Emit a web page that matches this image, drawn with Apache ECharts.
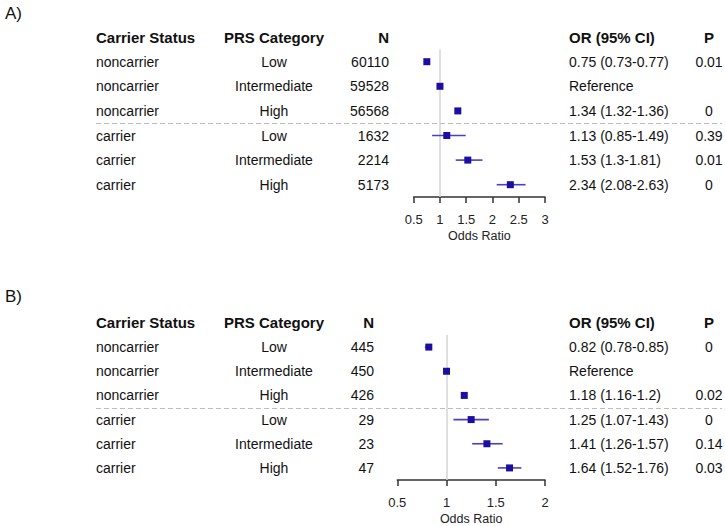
<!DOCTYPE html>
<html>
<head>
<meta charset="utf-8">
<script src="https://cdn.jsdelivr.net/npm/echarts@6/dist/echarts.min.js"></script>
<style>
  html, body { margin: 0; padding: 0; background: #fff; }
  #main { width: 725px; height: 526px; }
</style>
</head>
<body>
<div id="main"></div>
<script>
// rows shared by both panels
var carrier = ['noncarrier', 'noncarrier', 'noncarrier', 'carrier', 'carrier', 'carrier'];
var prs = ['Low', 'Intermediate', 'High', 'Low', 'Intermediate', 'High'];
var headers = ['Carrier Status', 'PRS Category', 'N', 'OR (95% CI)', 'P'];

// panel A
var nA = [60110, 59528, 56568, 1632, 2214, 5173];
var orA = [0.75, 1, 1.34, 1.13, 1.53, 2.34];
var loA = [0.73, null, 1.32, 0.85, 1.3, 2.08];
var hiA = [0.77, null, 1.36, 1.49, 1.81, 2.63];
var pA = ['0.01', '', '0', '0.39', '0.01', '0'];
var ticksA = [0.5, 1, 1.5, 2, 2.5, 3];

// panel B
var nB = [445, 450, 426, 29, 23, 47];
var orB = [0.82, 1, 1.18, 1.25, 1.41, 1.64];
var loB = [0.78, null, 1.16, 1.07, 1.26, 1.52];
var hiB = [0.85, null, 1.2, 1.43, 1.57, 1.76];
var pB = ['0', '', '0.02', '0', '0.14', '0.03'];
var ticksB = [0.5, 1, 1.5, 2];

var FONT = '"Liberation Sans", Arial, Helvetica, sans-serif';

var panels = [
  { tag: 'A)', n: nA, or: orA, lo: loA, hi: hiA, p: pA, ticks: ticksA,
    grid: { left: 413.7, top: 49.4, width: 131.3, height: 147.6 }, nRight: 389, tagY: 13 },
  { tag: 'B)', n: nB, or: orB, lo: loB, hi: hiB, p: pB, ticks: ticksB,
    grid: { left: 397.3, top: 335, width: 147.7, height: 147.6 }, nRight: 374, tagY: 296 }
];

var dom = document.getElementById('main');
var myChart = echarts.init(dom, null, { renderer: 'svg' });

var grids = [], xAxes = [], yAxes = [], series = [];
panels.forEach(function (pn, g) {
  grids.push({ left: pn.grid.left, top: pn.grid.top, width: pn.grid.width, height: pn.grid.height, containLabel: false });
  xAxes.push({
    type: 'value', gridIndex: g,
    min: pn.ticks[0], max: pn.ticks[pn.ticks.length - 1], interval: pn.ticks[1] - pn.ticks[0],
    name: 'Odds Ratio', nameLocation: 'middle', nameGap: 32,
    nameTextStyle: { fontFamily: FONT, fontSize: 12.5, color: '#222' },
    splitLine: { show: false },
    axisLine: { show: true, lineStyle: { color: '#333', width: 1.5 } },
    axisTick: { show: true, length: 6, lineStyle: { color: '#333', width: 1.5 } },
    axisLabel: { fontFamily: FONT, fontSize: 13, color: '#222', margin: 16 }
  });
  yAxes.push({
    type: 'category', gridIndex: g, inverse: true,
    data: carrier.map(function (c, i) { return i; }),
    show: false
  });
  var ci = [];
  pn.or.forEach(function (v, i) {
    if (pn.lo[i] != null) ci.push([i, pn.lo[i], pn.hi[i]]);
  });
  series.push({
    type: 'custom', xAxisIndex: g, yAxisIndex: g, z: 2,
    encode: { x: [1, 2], y: 0 },
    data: ci,
    renderItem: function (params, api) {
      var a = api.coord([api.value(1), api.value(0)]);
      var b = api.coord([api.value(2), api.value(0)]);
      return {
        type: 'line',
        shape: { x1: a[0], y1: a[1], x2: b[0], y2: b[1] },
        style: { stroke: '#4642c6', lineWidth: 1.6 }
      };
    },
    markLine: {
      silent: true, symbol: 'none', z: 1, label: { show: false },
      lineStyle: { color: '#d4d4d4', width: 1.5, type: 'solid' },
      data: [{ xAxis: 1 }]
    }
  });
  series.push({
    type: 'scatter', xAxisIndex: g, yAxisIndex: g, z: 3,
    symbol: 'rect', symbolSize: 7,
    itemStyle: { color: '#1c0ea0', opacity: 1 },
    data: pn.or.map(function (v, i) { return [v, i]; })
  });
});

myChart.setOption({
  animation: false,
  grid: grids,
  xAxis: xAxes,
  yAxis: yAxes,
  series: series
});

// table text, placed on the rows of each grid
function txt(s, x, y, align, bold, size) {
  return {
    type: 'text', silent: true,
    style: {
      text: s, x: x, y: y, fill: '#111',
      font: (bold ? 'bold ' : '') + (size || 14) + 'px ' + FONT,
      textAlign: align, textVerticalAlign: 'middle', align: align, verticalAlign: 'middle'
    }
  };
}

var graphics = [];
panels.forEach(function (pn, g) {
  var ys = pn.or.map(function (v, i) {
    return myChart.convertToPixel({ gridIndex: g }, [1, i])[1];
  });
  var step = ys[1] - ys[0];
  var hy = ys[0] - step;
  graphics.push(txt(pn.tag, 5, pn.tagY, 'left', false, 17));
  graphics.push(txt(headers[0], 96, hy, 'left', true, 15));
  graphics.push(txt(headers[1], 274, hy, 'center', true, 15));
  graphics.push(txt(headers[2], pn.nRight, hy, 'right', true, 15));
  graphics.push(txt(headers[3], 569, hy, 'left', true, 15));
  graphics.push(txt(headers[4], 709, hy, 'center', true, 15));
  ys.forEach(function (y, i) {
    var orText = pn.lo[i] == null ? 'Reference' : pn.or[i] + ' (' + pn.lo[i] + '-' + pn.hi[i] + ')';
    graphics.push(txt(carrier[i], 96, y, 'left'));
    graphics.push(txt(prs[i], 274, y, 'center'));
    graphics.push(txt(String(pn.n[i]), pn.nRight, y, 'right'));
    graphics.push(txt(orText, 569, y, 'left'));
    if (pn.p[i] !== '') graphics.push(txt(pn.p[i], 709, y, 'center'));
  });
  var dy = Math.round((ys[2] + ys[3]) / 2) + 0.5;
  graphics.push({
    type: 'line', silent: true, z: 1,
    shape: { x1: 96, y1: dy, x2: 722, y2: dy },
    style: { stroke: '#bdbdbd', lineWidth: 1, lineDash: [5, 3] }
  });
});

myChart.setOption({ graphic: { elements: graphics } });
</script>
</body>
</html>
